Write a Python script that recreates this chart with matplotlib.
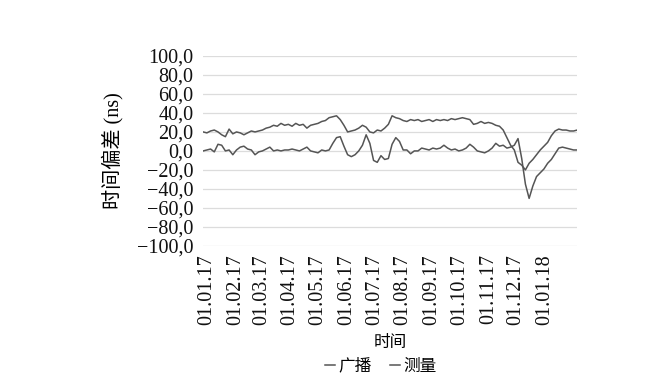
#!/usr/bin/env python3
"""
Time offset of broadcast vs measured time, 2017
"""

import numpy as np
import pandas as pd
import matplotlib
matplotlib.use("Agg")
import matplotlib.pyplot as plt
import matplotlib.dates as mdates
from matplotlib.ticker import FuncFormatter, MultipleLocator

# samples every 4 days
dates = pd.date_range("2016-12-28", periods=102, freq="4D")
month_ticks = pd.date_range("2017-01-01", "2018-01-01", freq="MS")

broadcast = [
    20, 19, 21, 22, 20, 17, 15, 23, 18, 20,
    19, 17, 19, 21, 20, 21, 22, 24, 25, 27,
    26, 29, 27, 28, 26, 29, 27, 28, 24, 27,
    28, 29, 31, 32, 35, 36, 37, 33, 27, 20,
    21, 22, 24, 27, 25, 20, 19, 22, 21, 24,
    28, 37, 35, 34, 32, 31, 33, 32, 33, 31,
    32, 33, 31, 33, 32, 33, 32, 34, 33, 34,
    35, 34, 33, 28, 29, 31, 29, 30, 29, 27,
    26, 22, 14, 6, 1, -12, -15, -20, -13, -9,
    -4, 1, 5, 9, 16, 21, 23, 22, 22, 21,
    21, 22,
]

measured = [
    0, 1, 2, -1, 7, 6, 0, 1, -4, 1,
    4, 5, 2, 1, -4, -1, 0, 2, 4, 0,
    1, 0, 1, 1, 2, 1, 0, 2, 4, 0,
    -1, -2, 1, 0, 1, 8, 14, 15, 5, -4,
    -6, -4, 0, 6, 17, 8, -10, -12, -5, -9,
    -8, 7, 14, 10, 1, 1, -3, 0, 0, 3,
    2, 1, 3, 2, 3, 6, 3, 1, 2, 0,
    1, 3, 7, 4, 0, -1, -2, 0, 3, 8,
    5, 6, 3, 4, 6, 13, -8, -35, -50, -37,
    -27, -23, -19, -13, -9, -3, 3, 4, 3, 2,
    1, 1,
]

series_names = ["广播", "测量"]

FONT = ["Liberation Serif", "Noto Sans CJK SC"]
plt.rcParams["font.family"] = FONT
plt.rcParams["axes.unicode_minus"] = True

LINE = "#555555"


def fmt_y(v, pos):
    return f"{v:.1f}".replace(".", ",").replace("-", "\u2212")


def main():
    fig = plt.figure(figsize=(6.45, 3.86), dpi=100)
    ax = fig.add_axes([0.315, 0.363, 0.58, 0.492])

    ax.plot(dates, broadcast, color=LINE, linewidth=1.1, label=series_names[0])
    ax.plot(dates, measured, color=LINE, linewidth=1.1, label=series_names[1])

    ax.set_xlim(dates[0], dates[-1])
    ax.set_ylim(-100, 100)
    ax.yaxis.set_major_locator(MultipleLocator(20))
    ax.yaxis.set_major_formatter(FuncFormatter(fmt_y))
    ax.set_xticks(month_ticks)
    ax.xaxis.set_major_formatter(mdates.DateFormatter("%d.%m.%y"))

    ax.grid(True, axis="y", color="#dcdcdc", linewidth=0.9)
    ax.set_axisbelow(True)
    for s in ax.spines.values():
        s.set_visible(False)
    ax.tick_params(length=0, labelsize=14.5, colors="#111111")
    ax.tick_params(axis="y", pad=7)
    ax.tick_params(axis="x", pad=6, labelrotation=90)

    ax.set_ylabel("时间偏差 (ns)", fontsize=14.5, labelpad=10)
    ax.set_xlabel("时间", fontsize=12, labelpad=7)

    fig.legend(loc="center", bbox_to_anchor=(0.59, 0.05), ncol=2,
               frameon=False, fontsize=12, handlelength=0.6,
               handletextpad=0.2, columnspacing=1.1)

    fig.savefig("out.png", dpi=100)
    plt.close(fig)


if __name__ == "__main__":
    main()
